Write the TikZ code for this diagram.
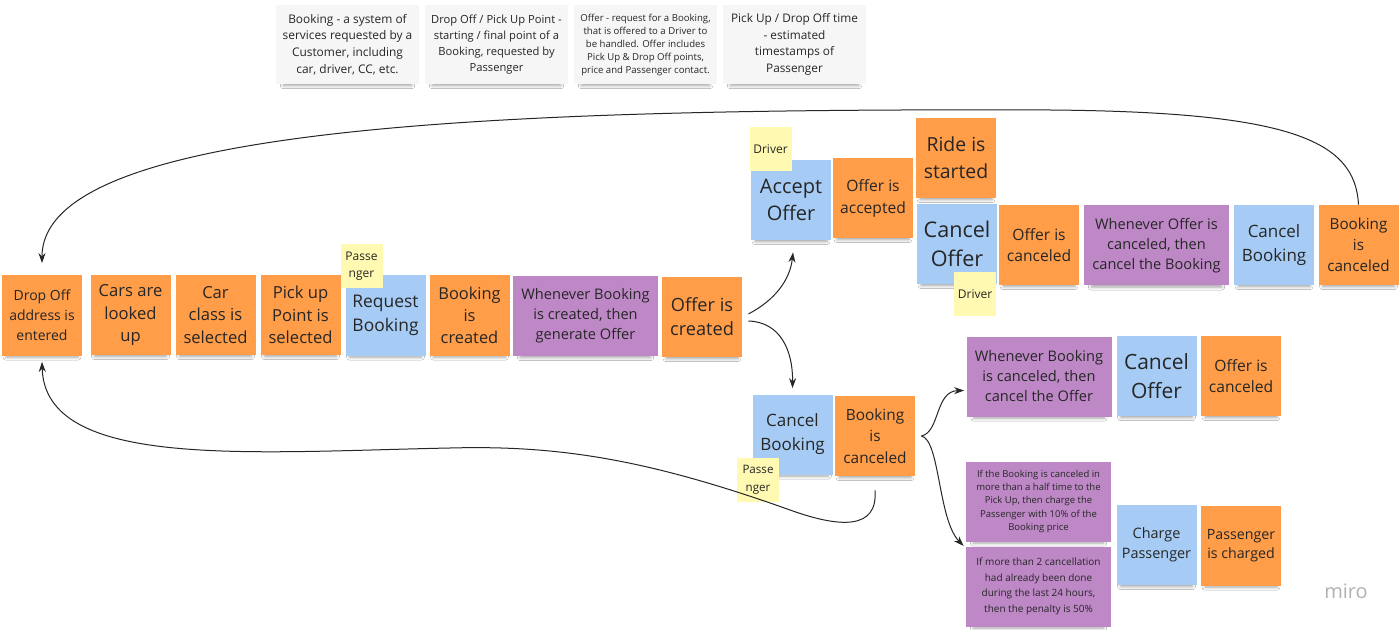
\documentclass[tikz,border=0pt]{standalone}
\usepackage{fontspec}
\setmainfont{Open Sans}
\usetikzlibrary{shadows.blur,arrows.meta}
\definecolor{evorange}{HTML}{FF9D48}
\definecolor{cmdblue}{HTML}{A6CCF5}
\definecolor{polpurple}{HTML}{BE88C7}
\definecolor{actyellow}{HTML}{FFF9B1}
\definecolor{notegray}{HTML}{F6F6F7}
\begin{document}
\begin{tikzpicture}[x=0.5pt,y=-0.5pt,
    sticky/.style={inner sep=0pt, align=center, text=black!85,
      minimum width=40pt, minimum height=40pt,
      blur shadow={shadow xshift=0pt, shadow yshift=-3.2pt, shadow scale=0.9,
        shadow blur radius=1.6pt, shadow opacity=35}},
    event/.style={sticky, fill=evorange},
    command/.style={sticky, fill=cmdblue},
    policy/.style={sticky, fill=polpurple, minimum width=72.5pt},
    actor/.style={inner sep=0pt, align=center, text=black!85, fill=actyellow,
      minimum width=21pt, minimum height=22pt},
    note/.style={sticky, fill=notegray, minimum width=71.5pt, minimum height=39.5pt},
    fs/.style 2 args={font=\fontsize{#1}{#2}\selectfont},
    flow/.style={-{Stealth[length=5pt,width=3.5pt]}, line width=0.5pt, black!85}]
  \fill[white] (0,0) rectangle (1400,630);
  \useasboundingbox (0,0) rectangle (1400,630);
  \node[note, fs={5.95}{8.3}] (n1) at (347.5,44.5) {Booking - a system of\\services requested by a\\Customer, including\\car, driver, CC, etc.};
  \node[note, fs={5.6}{8}] (n2) at (496.5,44.5) {Drop Off / Pick Up Point -\\starting / final point of a\\Booking, requested by\\Passenger};
  \node[note, fs={4.8}{6.5}] (n3) at (645.5,44.5) {Offer - request for a Booking,\\that is offered to a Driver to\\be handled. Offer includes\\Pick Up \& Drop Off points,\\price and Passenger contact.};
  \node[note, fs={5.9}{8.3}] (n4) at (794.5,44.5) {Pick Up / Drop Off time\\- estimated\\timestamps of\\Passenger};
  \node[event, fs={7}{10}] (drop) at (42,315.5) {Drop Off\\address is\\entered};
  \node[event, fs={8.3}{11.3}] (cars) at (130.5,315) {Cars are\\looked\\up};
  \node[event, fs={8.3}{11.3}] (cls) at (215.5,315) {Car\\class is\\selected};
  \node[event, fs={8.3}{11.3}] (pick) at (300.5,315) {Pick up\\Point is\\selected};
  \node[command, fs={8.7}{12}] (req) at (385.5,315.5) {Request\\Booking};
  \node[event, fs={8.2}{11}] (bkc) at (469.5,315.5) {Booking\\is\\created};
  \node[policy, fs={7.3}{10}] (pol1) at (585.5,316) {Whenever Booking\\is created, then\\generate Offer};
  \node[event, fs={9.1}{12}] (offc) at (702,317) {Offer is\\created};
  \node[command, fs={10}{13.5}] (acc) at (791,200) {Accept\\Offer};
  \node[event, fs={7.8}{11}] (offa) at (873,198) {Offer is\\accepted};
  \node[event, fs={9.7}{13.5}] (ride) at (956,158) {Ride is\\started};
  \node[command, fs={10.8}{14.5}] (cof) at (957,244) {Cancel\\Offer};
  \node[event, fs={7.8}{10.5}] (ofcn) at (1039,245) {Offer is\\canceled};
  \node[policy, fs={7.3}{10}] (pol2) at (1156.5,245.5) {Whenever Offer is\\canceled, then\\cancel the Booking};
  \node[command, fs={8.5}{12}] (cbk) at (1274,245) {Cancel\\Booking};
  \node[event, fs={7.6}{10.5}] (bkcT) at (1358.5,245) {Booking\\is\\canceled};
  \node[command, fs={8.5}{12}] (cbk2) at (792.5,434.5) {Cancel\\Booking};
  \node[event, fs={7.7}{10.75}] (bkcB) at (875,436) {Booking\\is\\canceled};
  \node[policy, fs={7.3}{10}] (pol3) at (1039,376.5) {Whenever Booking\\is canceled, then\\cancel the Offer};
  \node[command, fs={10.5}{14.5}] (cof2) at (1156.5,376) {Cancel\\Offer};
  \node[event, fs={7.8}{10.5}] (ofcn2) at (1241,376) {Offer is\\canceled};
  \node[policy, fs={4.75}{6.6}] (pol4) at (1038.5,501.5) {If the Booking is canceled in\\more than a half time to the\\Pick Up, then charge the\\Passenger with 10\% of the\\Booking price};
  \node[policy, fs={5}{7.75}] (pol5) at (1038.5,586.5) {If more than 2 cancellation\\had already been done\\during the last 24 hours,\\then the penalty is 50\%};
  \node[command, fs={7.2}{9.75}] (chg) at (1156.5,545) {Charge\\Passenger};
  \node[event, fs={7.1}{9.75}] (pchg) at (1241,545.5) {Passenger\\is charged};
  \node[actor, fs={6}{8.5}] (pas1) at (361.5,266) {Passe\\nger};
  \node[actor, fs={6}{8.5}] (drv1) at (770.5,149.5) {Driver};
  \node[actor, fs={6}{8.5}] (drv2) at (975,294) {Driver};
  \node[actor, fs={5.8}{9}] (pas2) at (758,479.5) {Passe\\nger};
  \node[text=black!30, fs={10}{10}] (logo) at (1346,591) {miro};
  \begin{scope}[flow]
    \draw (bkcT.north) .. controls (1355,140) and (1290,112) .. (1050,110)
      .. controls (500,108) and (42,125) .. ([yshift=6pt]drop.north);
    \draw ([yshift=-7pt]bkcB.south) .. controls (878,530) and (840,528) .. (790,510)
      .. controls (650,460) and (560,445) .. (450,448)
      .. controls (250,452) and (45,470) .. ([yshift=-3pt]drop.south);
    \draw ([xshift=3pt,yshift=1.5pt]offc.east) .. controls (775,300) and (790,280) .. ([xshift=1pt,yshift=-6pt]acc.south);
    \draw ([xshift=3pt,yshift=-2pt]offc.east) .. controls (780,322) and (793,350) .. ([yshift=3pt]cbk2.north);
    \draw ([xshift=3pt]bkcB.east) .. controls (940,432) and (935,391) .. ([xshift=-1pt,yshift=-7pt]pol3.west);
    \draw ([xshift=3pt]bkcB.east) .. controls (940,440) and (938,520) .. ([xshift=-1pt,yshift=-2pt]pol4.south west);
  \end{scope}
\end{tikzpicture}
\end{document}
